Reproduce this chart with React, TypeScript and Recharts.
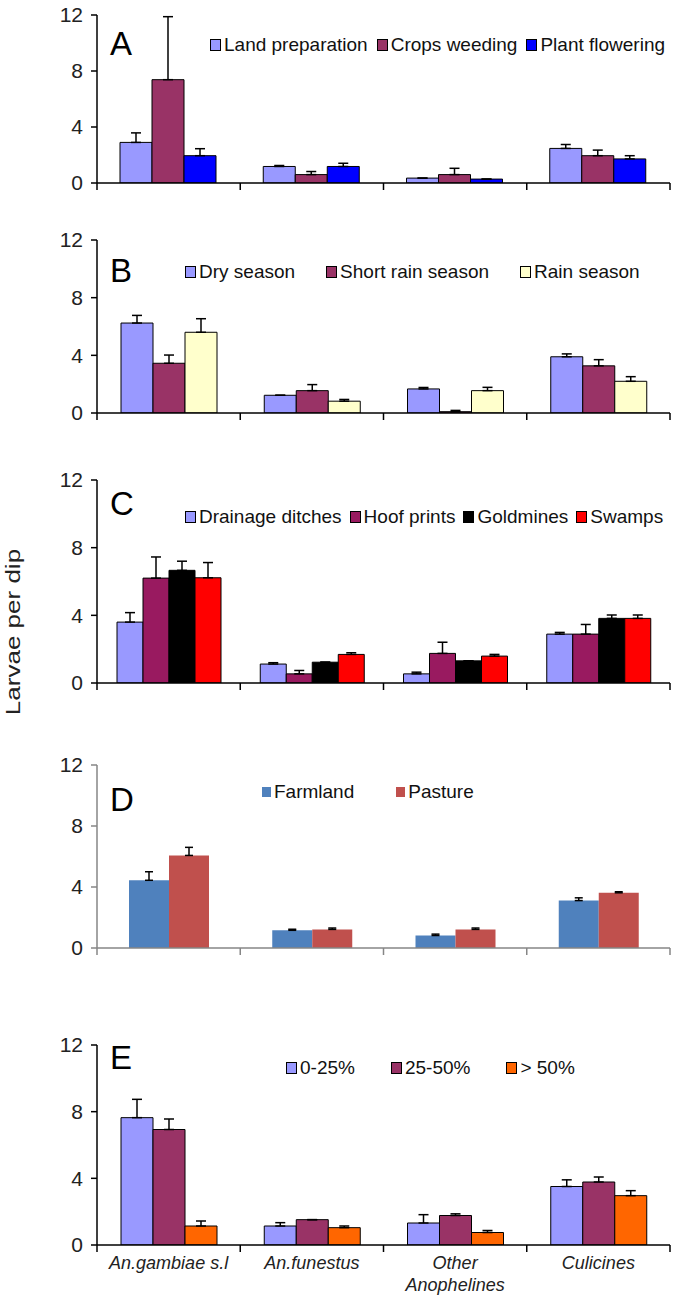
import React from 'react';
import { BarChart, Bar, XAxis, YAxis, ErrorBar } from 'recharts';

const categories = ['An.gambiae s.l', 'An.funestus', 'Other Anophelines', 'Culicines'];
const categoryTickLabels = ['An.gambiae s.l', 'An.funestus', 'Other\nAnophelines', 'Culicines'];
const yTicks = [0, 4, 8, 12];

// A - cropping period
const landPreparation = [2.9, 1.18, 0.35, 2.47];
const landPreparationErr = [0.68, 0.07, 0, 0.28];
const cropsWeeding = [7.38, 0.6, 0.6, 1.95];
const cropsWeedingErr = [4.5, 0.22, 0.45, 0.4];
const plantFlowering = [1.95, 1.18, 0.28, 1.72];
const plantFloweringErr = [0.5, 0.23, 0, 0.23];

// B - season
const drySeason = [6.24, 1.23, 1.67, 3.9];
const drySeasonErr = [0.53, 0, 0.1, 0.2];
const shortRainSeason = [3.45, 1.55, 0.09, 3.27];
const shortRainSeasonErr = [0.57, 0.42, 0.09, 0.43];
const rainSeason = [5.6, 0.82, 1.55, 2.2];
const rainSeasonErr = [0.94, 0.12, 0.23, 0.32];

// C - habitat
const drainageDitches = [3.6, 1.12, 0.54, 2.89];
const drainageDitchesErr = [0.56, 0.08, 0.1, 0.1];
const hoofPrints = [6.2, 0.54, 1.75, 2.89];
const hoofPrintsErr = [1.25, 0.2, 0.66, 0.57];
const goldmines = [6.66, 1.23, 1.31, 3.82];
const goldminesErr = [0.54, 0, 0, 0.2];
const swamps = [6.22, 1.69, 1.59, 3.82];
const swampsErr = [0.9, 0.1, 0.1, 0.2];

// D - land use
const farmland = [4.44, 1.16, 0.82, 3.11];
const farmlandErr = [0.56, 0.07, 0.09, 0.18];
const pasture = [6.07, 1.22, 1.22, 3.62];
const pastureErr = [0.53, 0.09, 0.09, 0.07];

// E - canopy cover
const cover0to25 = [7.64, 1.14, 1.32, 3.51];
const cover0to25Err = [1.1, 0.2, 0.5, 0.4];
const cover25to50 = [6.93, 1.52, 1.77, 3.78];
const cover25to50Err = [0.63, 0, 0.1, 0.3];
const coverOver50 = [1.14, 1.04, 0.75, 2.96];
const coverOver50Err = [0.3, 0.1, 0.12, 0.3];

const FONT = "'Liberation Sans', Arial, sans-serif";

interface Series {
  name: string;
  color: string;
  values: number[];
  errors: number[];
}

interface Panel {
  letter: string;
  series: Series[];
  top: number; // y of value 12
  plotHeight: number;
  categoryGap: number;
  legendX: number;
  legendY: number;
  legendGap: number;
  letterY: number;
  flat?: boolean; // excel 2007 look: no bar borders, grey axes
  showLabels?: boolean;
}

const panels: Panel[] = [
  {
    letter: 'A',
    series: [
      { name: 'Land preparation', color: '#9999FF', values: landPreparation, errors: landPreparationErr },
      { name: 'Crops weeding', color: '#993366', values: cropsWeeding, errors: cropsWeedingErr },
      { name: 'Plant flowering', color: '#0000FF', values: plantFlowering, errors: plantFloweringErr },
    ],
    top: 15, plotHeight: 168, categoryGap: 23,
    legendX: 210, legendY: 45, legendGap: 9, letterY: 44,
  },
  {
    letter: 'B',
    series: [
      { name: 'Dry season', color: '#9999FF', values: drySeason, errors: drySeasonErr },
      { name: 'Short rain season', color: '#993366', values: shortRainSeason, errors: shortRainSeasonErr },
      { name: 'Rain season', color: '#FFFFCC', values: rainSeason, errors: rainSeasonErr },
    ],
    top: 240, plotHeight: 173, categoryGap: 24,
    legendX: 185, legendY: 272, legendGap: 31, letterY: 271,
  },
  {
    letter: 'C',
    series: [
      { name: 'Drainage ditches', color: '#9999FF', values: drainageDitches, errors: drainageDitchesErr },
      { name: 'Hoof prints', color: '#991A60', values: hoofPrints, errors: hoofPrintsErr },
      { name: 'Goldmines', color: '#000000', values: goldmines, errors: goldminesErr },
      { name: 'Swamps', color: '#FF0000', values: swamps, errors: swampsErr },
    ],
    top: 480, plotHeight: 203, categoryGap: 20,
    legendX: 185, legendY: 517, legendGap: 8, letterY: 504,
  },
  {
    letter: 'D',
    series: [
      { name: 'Farmland', color: '#4F81BD', values: farmland, errors: farmlandErr },
      { name: 'Pasture', color: '#C0504D', values: pasture, errors: pastureErr },
    ],
    top: 765, plotHeight: 183, categoryGap: 32,
    legendX: 262, legendY: 792, legendGap: 42, letterY: 800, flat: true,
  },
  {
    letter: 'E',
    series: [
      { name: '0-25%', color: '#9999FF', values: cover0to25, errors: cover0to25Err },
      { name: '25-50%', color: '#993366', values: cover25to50, errors: cover25to50Err },
      { name: '> 50%', color: '#FF6600', values: coverOver50, errors: coverOver50Err },
    ],
    top: 1045, plotHeight: 200, categoryGap: 24,
    legendX: 286, legendY: 1068, legendGap: 36, letterY: 1058, showLabels: true,
  },
];

const AXIS_X = 97;
const PLOT_RIGHT = 670;
const TOP_PAD = 14;
const BOTTOM_PAD = 14;
const EDGE_H = 10;
const LABEL_H = 50;

// tick marks sit on the category boundaries (x +/- half band), labels in the band centre
const CategoryTick = (props: any) => {
  const { x, y, payload, index, stroke, showLabels } = props;
  const half = payload.offset ?? 0;
  const idx = categories.indexOf(payload.value);
  const lines = (categoryTickLabels[idx] ?? String(payload.value)).split('\n');
  const last = index === categories.length - 1;
  return (
    <g>
      <line x1={x - half} x2={x - half} y1={y} y2={y + 7} stroke={stroke} strokeWidth={1.5} />
      {last && <line x1={x + half} x2={x + half} y1={y} y2={y + 7} stroke={stroke} strokeWidth={1.5} />}
      {showLabels && (
        <text x={x} y={y} textAnchor="middle" fontStyle="italic" fontSize={18} fill="#222" fontFamily={FONT}>
          {lines.map((l: string, i: number) => (
            <tspan key={i} x={x} dy={i === 0 ? 24 : 22}>{l}</tspan>
          ))}
        </text>
      )}
    </g>
  );
};

function PanelChart({ panel }: { panel: Panel }) {
  const data = categories.map((name, i) => {
    const row: any = { name };
    panel.series.forEach((s, k) => {
      row[`v${k}`] = s.values[i];
      row[`e${k}`] = [0, s.errors[i]];
    });
    return row;
  });
  const axisColor = panel.flat ? '#868686' : '#000';
  const bottom = panel.showLabels ? 0 : BOTTOM_PAD;
  const axisH = panel.showLabels ? EDGE_H + LABEL_H : EDGE_H;
  const height = TOP_PAD + panel.plotHeight + axisH + bottom;

  return (
    <div style={{ position: 'absolute', left: 0, top: panel.top - TOP_PAD }}>
      <BarChart
        width={679}
        height={height}
        data={data}
        margin={{ top: TOP_PAD, right: 679 - PLOT_RIGHT, left: 0, bottom }}
        barCategoryGap={panel.categoryGap}
        barGap={0}
      >
        <XAxis
          dataKey="name"
          height={axisH}
          interval={0}
          tickLine={false}
          tickSize={0}
          tickMargin={0}
          axisLine={{ stroke: axisColor, strokeWidth: 1.5 }}
          tick={<CategoryTick stroke={axisColor} showLabels={!!panel.showLabels} />}
        />
        <YAxis
          type="number"
          domain={[0, 12]}
          ticks={yTicks}
          interval={0}
          allowDataOverflow
          width={AXIS_X}
          tickSize={6}
          tickMargin={8}
          axisLine={{ stroke: axisColor, strokeWidth: 1.5 }}
          tickLine={{ stroke: axisColor, strokeWidth: 1.5 }}
          tick={{ fill: '#222', fontSize: 21, fontFamily: FONT }}
        />
        {panel.series.map((s, k) => (
          <Bar
            key={s.name}
            dataKey={`v${k}`}
            name={s.name}
            fill={s.color}
            stroke={panel.flat ? 'none' : '#000'}
            strokeWidth={1}
            isAnimationActive={false}
          >
            <ErrorBar
              dataKey={`e${k}`}
              width={panel.flat ? 4 : 5}
              stroke="#000"
              strokeWidth={1.5}
              direction="y"
            />
          </Bar>
        ))}
      </BarChart>
    </div>
  );
}

function PanelLegend({ panel }: { panel: Panel }) {
  return (
    <div
      style={{
        position: 'absolute',
        left: panel.legendX,
        top: panel.legendY - 12,
        height: 24,
        display: 'flex',
        alignItems: 'center',
        gap: panel.legendGap,
        fontFamily: FONT,
        fontSize: 19,
        color: '#111',
        whiteSpace: 'nowrap',
      }}
    >
      {panel.series.map((s) => (
        <div key={s.name} style={{ display: 'flex', alignItems: 'center' }}>
          <span
            style={{
              display: 'inline-block',
              width: 9,
              height: 10,
              background: s.color,
              border: panel.flat ? 'none' : '1px solid #000',
              marginRight: 3,
            }}
          />
          {s.name}
        </div>
      ))}
    </div>
  );
}

export default function App() {
  return (
    <div
      style={{
        position: 'absolute',
        left: 0,
        top: 0,
        width: 679,
        height: 1304,
        background: '#fff',
        overflow: 'hidden',
      }}
    >
      {panels.map((p) => (
        <React.Fragment key={p.letter}>
          <PanelChart panel={p} />
          <PanelLegend panel={p} />
          <div
            style={{
              position: 'absolute',
              left: 110,
              top: p.letterY - 18,
              height: 36,
              lineHeight: '36px',
              fontFamily: FONT,
              fontSize: 33,
              color: '#000',
            }}
          >
            {p.letter}
          </div>
        </React.Fragment>
      ))}
      <div
        style={{
          position: 'absolute',
          left: 13 - 110,
          top: 632 - 15,
          width: 220,
          height: 30,
          lineHeight: '30px',
          textAlign: 'center',
          fontFamily: FONT,
          fontSize: 26,
          color: '#222',
          transform: 'rotate(-90deg) scale(1, 0.8)',
        }}
      >
        Larvae per dip
      </div>
    </div>
  );
}
